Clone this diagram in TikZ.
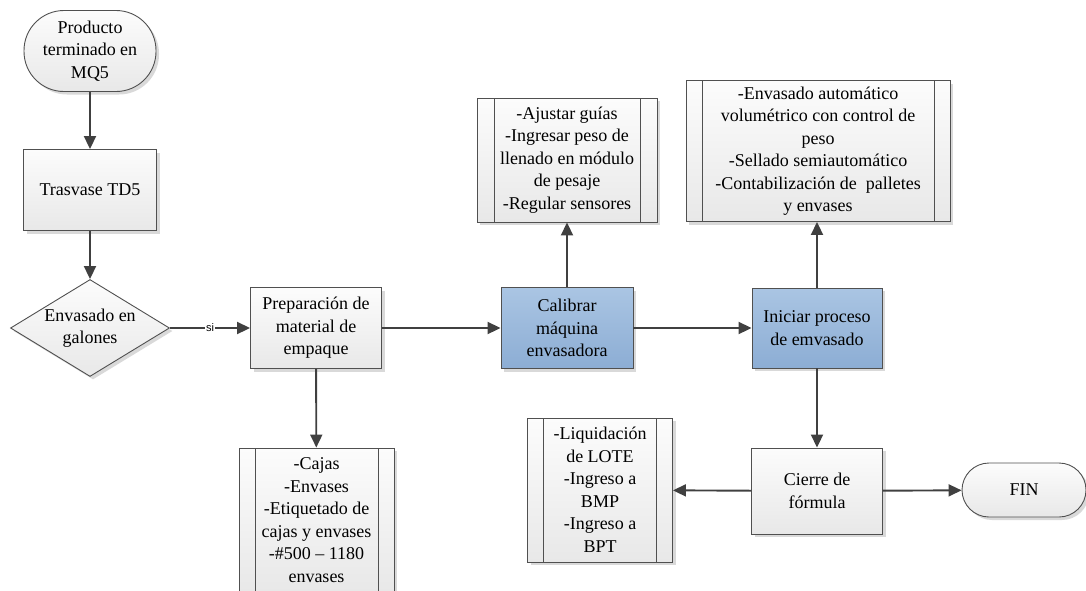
\documentclass[tikz,border=0pt]{standalone}
\usepackage{fontspec}
\setmainfont{Liberation Serif}
\setsansfont{Liberation Sans}
\usetikzlibrary{arrows.meta,shadows,shapes.geometric}
\definecolor{boxline}{HTML}{505050}
\definecolor{arrowgray}{HTML}{404040}
\definecolor{boxtop}{HTML}{FCFCFC}
\definecolor{boxbot}{HTML}{E8E8E8}
\definecolor{bluetop}{HTML}{AAC5E3}
\definecolor{bluebot}{HTML}{8CADD4}
\tikzset{
  base/.style={draw=boxline, line width=0.9pt, align=center, inner sep=0pt,
    font=\fontsize{18}{22.5}\selectfont, top color=boxtop, bottom color=boxbot,
    drop shadow={shadow xshift=3pt, shadow yshift=-3pt, fill=black, opacity=0.15}},
  procbox/.style={base, rectangle},
  bluebox/.style={base, rectangle, top color=bluetop, bottom color=bluebot},
  termbox/.style={base, rectangle, rounded corners=#1},
  decbox/.style={base, diamond, aspect=1.64},
  subproc/.style={base, rectangle, path picture={
    \draw[boxline, line width=0.9pt]
      ([xshift=#1]path picture bounding box.north west) -- ([xshift=#1]path picture bounding box.south west)
      ([xshift=-#1]path picture bounding box.north east) -- ([xshift=-#1]path picture bounding box.south east);}},
  flow/.style={draw=arrowgray, line width=1.9pt, -{Triangle[length=13pt,width=12pt]}}
}
\begin{document}
\begin{tikzpicture}[x=1pt, y=-1pt]
\clip (0,0) rectangle (1086,590);
% left column
\node[termbox=40pt, minimum width=132pt, minimum height=81pt] (inicio) at (90,51) {Producto\\terminado en\\MQ5};
\node[procbox, minimum width=133pt, minimum height=81pt] (trasvase) at (90,190) {Trasvase TD5};
\node[decbox, minimum width=159pt, minimum height=97pt] (galones) at (90,328) {Envasado en\\galones};
% middle row
\node[procbox, minimum width=131pt, minimum height=81pt] (prep) at (316,328) {Preparaci\'on de\\material de\\empaque};
\node[subproc=16pt, minimum width=155pt, minimum height=144pt] (cajas) at (316.5,520) {-Cajas\\-Envases\\-Etiquetado de\\cajas y envases\\-\#500 -- 1180\\envases};
\node[bluebox, minimum width=132pt, minimum height=81pt] (calibrar) at (567,328) {Calibrar\\m\'aquina\\envasadora};
\node[subproc=17pt, minimum width=180pt, minimum height=124pt] (ajustar) at (567,160) {-Ajustar gu\'ias\\-Ingresar peso de\\llenado en m\'odulo\\de pesaje\\-Regular sensores};
\node[bluebox, minimum width=130pt, minimum height=80pt] (iniciar) at (817,328) {Iniciar proceso\\de emvasado};
\node[subproc=16pt, minimum width=264pt, minimum height=141pt] (envasado) at (818,151) {-Envasado autom\'atico\\volum\'etrico con control de\\peso\\-Sellado semiautom\'atico\\-Contabilizaci\'on de~ palletes\\y envases};
% bottom row
\node[procbox, minimum width=131pt, minimum height=86pt] (cierre) at (817,491) {Cierre de\\f\'ormula};
\node[subproc=16pt, minimum width=145pt, minimum height=144pt] (liquida) at (600,490) {-Liquidaci\'on\\de LOTE\\-Ingreso a\\BMP\\-Ingreso a\\BPT};
\node[termbox=27pt, minimum width=124pt, minimum height=54pt] (fin) at (1024,490) {FIN};
% connectors
\draw[flow] (inicio) -- (trasvase);
\draw[flow] (trasvase) -- (galones);
\draw[flow] (galones) -- node[fill=white, inner sep=1pt, font=\sffamily\fontsize{11}{13}\selectfont] {si} (prep);
\draw[flow] (prep) -- (calibrar);
\draw[flow] (prep) -- (cajas);
\draw[flow] (calibrar) -- (ajustar);
\draw[flow] (calibrar) -- (iniciar);
\draw[flow] (iniciar.north) -- (iniciar.north |- envasado.south);
\draw[flow] (iniciar) -- (cierre);
\draw[flow] (cierre) -- (liquida);
\draw[flow] (cierre) -- (fin);
\end{tikzpicture}
\end{document}
